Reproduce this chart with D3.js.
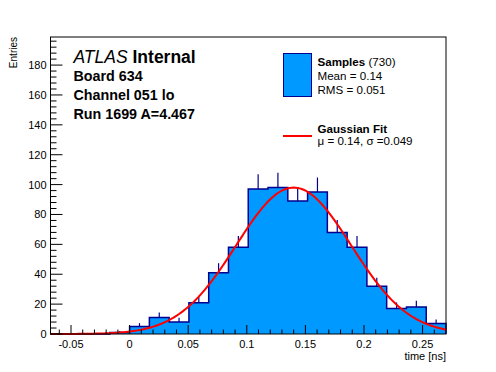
<!DOCTYPE html>
<html>
<head>
<meta charset="utf-8">
<script src="https://cdn.jsdelivr.net/npm/d3@7"></script>
<style>
  body { margin: 0; background: #fff; }
  svg { display: block; font-family: "Liberation Sans", Arial, Helvetica, sans-serif; }
</style>
</head>
<body>
<svg id="chart" width="496" height="372"></svg>
<script>
// histogram: 20 bins between xMin and xMax
const xMin = -0.0675
const xMax = 0.27
const counts = [0, 0, 0, 1, 5, 11, 8, 21, 41, 58, 97, 98, 89, 95, 68, 58, 32, 17, 18, 7]
const yMaxValue = 198.8

// gaussian fit parameters (amplitude, mean, sigma)
const fitAmp = 98
const fitMu = 0.14
const fitSigma = 0.049

const xTickValues = [-0.05, 0, 0.05, 0.1, 0.15, 0.2, 0.25]
const xTickLabels = ["-0.05", "0", "0.05", "0.1", "0.15", "0.2", "0.25"]
const yTickValues = [0, 20, 40, 60, 80, 100, 120, 140, 160, 180]
const yTickLabels = ["0", "20", "40", "60", "80", "100", "120", "140", "160", "180"]

const infoLines = ["Board 634", "Channel 051 lo", "Run 1699 A=4.467"]

const fillColor = "#0099ff"
const lineColor = "#00008f"

const margin = { top: 37, right: 50, bottom: 38, left: 50.5 }
const width = 496
const height = 372

const svg = d3.select('#chart')

const x = d3.scaleLinear()
    .domain([xMin, xMax])
    .range([margin.left, width - margin.right])
const y = d3.scaleLinear()
    .domain([0, yMaxValue])
    .range([height - margin.bottom, margin.top])

const binWidth = (xMax - xMin) / counts.length
const bins = counts.map((c, i) => ({ x0: xMin + i * binWidth, x1: xMin + (i + 1) * binWidth, n: c }))

// step outline points
let pts = [[x(xMin), y(0)]]
bins.forEach(b => { pts.push([x(b.x0), y(b.n)]); pts.push([x(b.x1), y(b.n)]) })
pts.push([x(xMax), y(0)])

// fill as a single area (no seams between bins)
svg.append('path')
  .attr('d', d3.line()(pts) + 'Z')
  .attr('fill', fillColor)

// error bars (only the upper half is visible above the fill)
svg.append('g')
  .selectAll('line')
  .data(bins.filter(b => b.n > 0))
  .join('line')
    .attr('x1', d => x((d.x0 + d.x1) / 2))
    .attr('x2', d => x((d.x0 + d.x1) / 2))
    .attr('y1', d => y(d.n))
    .attr('y2', d => y(d.n + Math.sqrt(d.n)))
    .attr('stroke', lineColor)
    .attr('stroke-width', 1.2)

svg.append('path')
  .attr('d', d3.line()(pts))
  .attr('fill', 'none')
  .attr('stroke', lineColor)
  .attr('stroke-width', 1.5)

// gaussian fit curve
const fitX = d3.range(0, 201).map(i => xMin + i * (xMax - xMin) / 200)
svg.append('path')
  .datum(fitX)
  .attr('d', d3.line()
      .x(d => x(d))
      .y(d => y(fitAmp * Math.exp(-0.5 * Math.pow((d - fitMu) / fitSigma, 2)))))
  .attr('fill', 'none')
  .attr('stroke', '#ff0000')
  .attr('stroke-width', 2)

// frame
svg.append('rect')
  .attr('x', margin.left)
  .attr('y', margin.top)
  .attr('width', width - margin.right - margin.left)
  .attr('height', height - margin.bottom - margin.top)
  .attr('fill', 'none')
  .attr('stroke', '#000')
  .attr('stroke-width', 1)

// y axis ticks (pointing inwards)
const yAxis = svg.append('g').attr('transform', `translate(${margin.left},0)`)
yAxis.selectAll('line')
  .data(d3.range(0, yMaxValue, 4))
  .join('line')
    .attr('x1', 0).attr('x2', d => d % 20 === 0 ? 12 : 6)
    .attr('y1', d => y(d)).attr('y2', d => y(d))
    .attr('stroke', '#000')
yAxis.selectAll('text')
  .data(yTickValues)
  .join('text')
    .attr('x', -4)
    .attr('y', d => y(d) + 4)
    .attr('text-anchor', 'end')
    .style('font-size', '11px')
    .text((d, i) => yTickLabels[i])

// x axis ticks
const xAxis = svg.append('g').attr('transform', `translate(0,${y(0)})`)
xAxis.selectAll('line')
  .data(d3.range(-6, 27).map(i => i / 100))
  .join('line')
    .attr('x1', d => x(d)).attr('x2', d => x(d))
    .attr('y1', 0).attr('y2', (d, i) => (i - 1) % 5 === 0 ? -9 : -4.5)
    .attr('stroke', '#000')
xAxis.selectAll('text')
  .data(xTickValues)
  .join('text')
    .attr('x', d => x(d))
    .attr('y', 13.5)
    .attr('text-anchor', 'middle')
    .style('font-size', '11px')
    .text((d, i) => xTickLabels[i])

// axis titles
svg.append('text')
  .attr('x', width - margin.right)
  .attr('y', 360)
  .attr('text-anchor', 'end')
  .style('font-size', '11px')
  .text('time [ns]')
svg.append('text')
  .attr('transform', `translate(17,${margin.top}) rotate(-90)`)
  .attr('text-anchor', 'end')
  .style('font-size', '10px')
  .text('Entries')

// ATLAS label
const atlas = svg.append('text')
  .attr('x', 73.5)
  .attr('y', 62.5)
  .style('font-size', '17.5px')
atlas.append('tspan').style('font-style', 'italic').text('ATLAS')
atlas.append('tspan').style('font-weight', 'bold').text(' Internal')

svg.selectAll('.info')
  .data(infoLines)
  .join('text')
    .attr('x', 73.5)
    .attr('y', (d, i) => 81 + i * 19)
    .style('font-size', '14.3px')
    .style('font-weight', 'bold')
    .text(d => d)

// legend
const legFont = '11.6px'
const leg = svg.append('g')
leg.append('rect')
  .attr('x', 283.5).attr('y', 53.5)
  .attr('width', 28).attr('height', 43)
  .attr('fill', fillColor)
  .attr('stroke', lineColor)
  .attr('stroke-width', 1)
const l1 = leg.append('text').attr('x', 317.5).attr('y', 65.5).style('font-size', legFont)
l1.append('tspan').style('font-weight', 'bold').text('Samples')
l1.append('tspan').text(' (730)')
leg.append('text').attr('x', 317.5).attr('y', 79.5).style('font-size', legFont).text('Mean = 0.14')
leg.append('text').attr('x', 317.5).attr('y', 93.5).style('font-size', legFont).text('RMS = 0.051')

leg.append('line')
  .attr('x1', 283).attr('x2', 312)
  .attr('y1', 136).attr('y2', 136)
  .attr('stroke', '#ff0000')
  .attr('stroke-width', 2)
leg.append('text').attr('x', 317.5).attr('y', 132.5).style('font-size', legFont)
  .style('font-weight', 'bold').text('Gaussian Fit')
leg.append('text').attr('x', 317.5).attr('y', 145).style('font-size', legFont)
  .text('μ = 0.14, σ =0.049')
</script>
</body>
</html>
